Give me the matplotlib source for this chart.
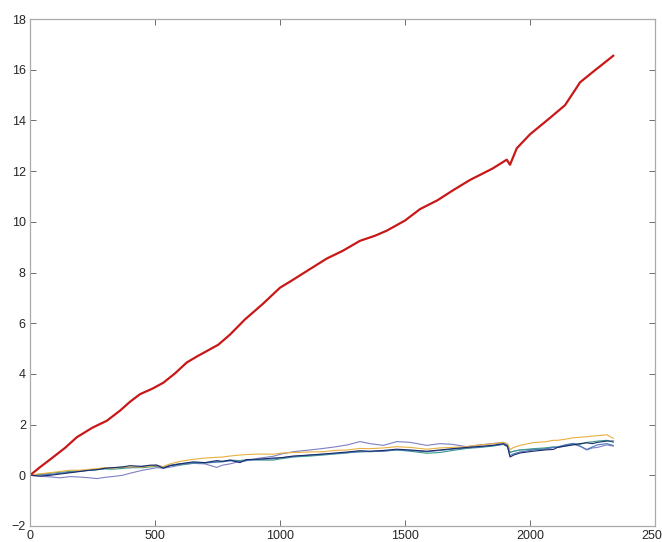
import numpy as np
import matplotlib
matplotlib.use('Agg')
import matplotlib.pyplot as plt

plt.rcParams['font.family'] = ['Liberation Sans', 'DejaVu Sans']

# red series (large cumulative)
red_x = [0, 40, 93, 140, 187, 250, 307, 360, 400, 440, 490, 533, 580, 627, 670, 707, 753,
         800, 840, 860, 930, 1000, 1050, 1090, 1187, 1250, 1320, 1380, 1427, 1500, 1560,
         1630, 1693, 1760, 1850, 1907, 1920, 1947, 2000, 2080, 2140, 2187, 2200, 2250, 2333]
red_y = [0, 0.32, 0.72, 1.08, 1.5, 1.88, 2.15, 2.55, 2.9, 3.2, 3.42, 3.65, 4.02, 4.45,
         4.7, 4.9, 5.15, 5.55, 5.95, 6.15, 6.75, 7.4, 7.7, 7.95, 8.55, 8.85, 9.25, 9.45,
         9.65, 10.05, 10.5, 10.85, 11.25, 11.65, 12.1, 12.45, 12.25, 12.9, 13.45, 14.1,
         14.6, 15.3, 15.5, 15.9, 16.55]

# small series
small_x = [0, 40, 80, 120, 160, 200, 240, 267, 300, 330,
           370, 400, 450, 480, 507, 533, 560, 600, 653, 700,
           747, 770, 800, 840, 867, 920, 973, 1010, 1053, 1120,
           1173, 1220, 1270, 1320, 1360, 1413, 1467, 1520, 1587, 1640,
           1690, 1747, 1800, 1850, 1893, 1910, 1920, 1935, 1960, 2013,
           2060, 2093, 2110, 2140, 2173, 2200, 2227, 2250, 2270, 2307, 2333]
orange = [0, 0.06, 0.1, 0.15, 0.2, 0.2, 0.24, 0.26, 0.3, 0.28,
          0.32, 0.33, 0.33, 0.36, 0.38, 0.35, 0.45, 0.55, 0.63, 0.68,
          0.71, 0.72, 0.76, 0.8, 0.82, 0.84, 0.83, 0.88, 0.9, 0.92,
          0.93, 0.98, 1.0, 1.06, 1.05, 1.08, 1.13, 1.1, 1.03, 1.08,
          1.1, 1.13, 1.2, 1.24, 1.3, 1.25, 1.02, 1.1, 1.18, 1.29,
          1.32, 1.38, 1.38, 1.42, 1.48, 1.5, 1.52, 1.55, 1.56, 1.6, 1.46]
teal = [0, 0.04, 0.08, 0.12, 0.15, 0.18, 0.2, 0.22, 0.25, 0.24,
        0.27, 0.3, 0.3, 0.33, 0.35, 0.3, 0.38, 0.42, 0.48, 0.5,
        0.53, 0.55, 0.6, 0.58, 0.62, 0.6, 0.6, 0.66, 0.72, 0.76,
        0.8, 0.84, 0.88, 0.95, 0.93, 0.96, 1.0, 0.95, 0.87, 0.9,
        0.98, 1.06, 1.1, 1.15, 1.22, 1.18, 0.9, 0.95, 1.0, 1.05,
        1.08, 1.12, 1.1, 1.18, 1.25, 1.22, 1.3, 1.32, 1.35, 1.38, 1.3]
navy = [0, -0.03, 0.0, 0.05, 0.1, 0.15, 0.2, 0.22, 0.28, 0.3,
        0.33, 0.38, 0.35, 0.4, 0.4, 0.28, 0.38, 0.45, 0.53, 0.5,
        0.58, 0.55, 0.6, 0.5, 0.62, 0.64, 0.68, 0.7, 0.76, 0.8,
        0.84, 0.88, 0.92, 0.97, 0.95, 0.98, 1.03, 1.0, 0.95, 1.0,
        1.05, 1.1, 1.14, 1.18, 1.25, 1.15, 0.72, 0.8, 0.88, 0.95,
        1.0, 1.02, 1.1, 1.15, 1.2, 1.25, 1.28, 1.25, 1.3, 1.35, 1.35]
blue = [0, 0.02, 0.03, 0.08, 0.12, 0.16, 0.2, 0.24, 0.27, 0.3,
        0.32, 0.3, 0.36, 0.38, 0.4, 0.32, 0.4, 0.46, 0.5, 0.48,
        0.52, 0.53, 0.57, 0.55, 0.58, 0.63, 0.65, 0.7, 0.74, 0.8,
        0.83, 0.86, 0.9, 0.92, 0.94, 0.95, 1.0, 0.98, 0.93, 0.98,
        1.03, 1.08, 1.12, 1.17, 1.22, 1.12, 0.78, 0.85, 0.92, 1.0,
        1.03, 1.1, 1.12, 1.2, 1.26, 1.15, 1.02, 1.12, 1.2, 1.25, 1.18]
purple = [0, -0.04, -0.06, -0.1, -0.05, -0.07, -0.1, -0.13, -0.08, -0.05,
          0.0, 0.08, 0.2, 0.25, 0.3, 0.28, 0.32, 0.4, 0.47, 0.45,
          0.31, 0.4, 0.45, 0.55, 0.58, 0.68, 0.75, 0.85, 0.93, 1.0,
          1.06, 1.12, 1.2, 1.33, 1.25, 1.18, 1.33, 1.3, 1.18, 1.25,
          1.22, 1.13, 1.2, 1.25, 1.3, 1.2, 0.9, 0.95, 1.0, 1.02,
          1.05, 1.1, 1.1, 1.15, 1.22, 1.15, 1.0, 1.08, 1.1, 1.2, 1.15]

fig = plt.figure(figsize=(6.62, 5.42), dpi=100)
ax = fig.add_axes([30 / 662, 16 / 542, 625 / 662, 507 / 542])

ax.plot(small_x, purple, color='#7f7fc4', lw=0.8)
ax.plot(small_x, teal, color='#3a9a8a', lw=0.8)
ax.plot(small_x, blue, color='#4a78b8', lw=0.8)
ax.plot(small_x, orange, color='#e8b040', lw=0.8)
ax.plot(small_x, navy, color='#1c2b6b', lw=0.8)
ax.plot(red_x, red_y, color='#c81818', lw=1.6)

ax.set_xlim(0, 2500)
ax.set_ylim(-2, 18)
ax.set_xticks(np.arange(0, 2501, 500))
ax.set_yticks(np.arange(-2, 19, 2))
ax.tick_params(direction='in', length=4, width=0.6, color='#555555', labelcolor='#262626',
               labelsize=9, top=True, right=True, pad=3)
for s in ax.spines.values():
    s.set_color('#aaaaaa')
    s.set_linewidth(0.9)

fig.savefig('out.png', dpi=100)
